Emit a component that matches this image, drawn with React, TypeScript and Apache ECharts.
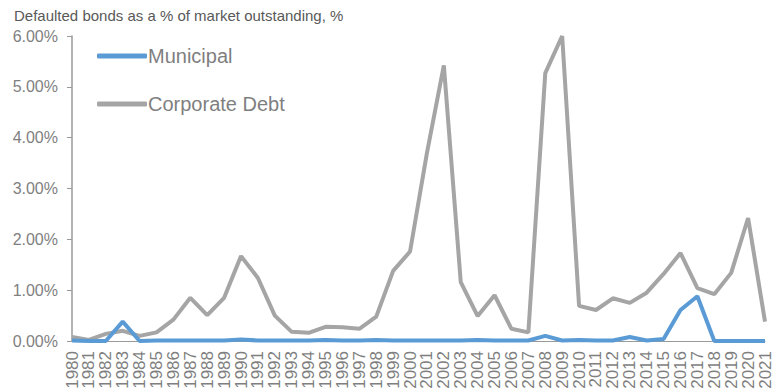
import React, { useEffect, useRef } from "react";
import * as echarts from "echarts";

const years = [
  "1980", "1981", "1982", "1983", "1984", "1985", "1986", "1987", "1988", "1989",
  "1990", "1991", "1992", "1993", "1994", "1995", "1996", "1997", "1998", "1999",
  "2000", "2001", "2002", "2003", "2004", "2005", "2006", "2007", "2008", "2009",
  "2010", "2011", "2012", "2013", "2014", "2015", "2016", "2017", "2018", "2019",
  "2020", "2021",
];

const municipal = [
  0.01, 0.0, 0.0, 0.38, 0.0, 0.01, 0.01, 0.01, 0.01, 0.01,
  0.03, 0.01, 0.01, 0.01, 0.01, 0.02, 0.01, 0.01, 0.02, 0.01,
  0.01, 0.01, 0.01, 0.01, 0.02, 0.01, 0.01, 0.01, 0.1, 0.01,
  0.02, 0.01, 0.01, 0.08, 0.01, 0.04, 0.61, 0.88, 0.0, 0.0,
  0.0, 0.0,
];

const corporate = [
  0.08, 0.02, 0.14, 0.2, 0.1, 0.17, 0.42, 0.85, 0.51, 0.85,
  1.67, 1.24, 0.5, 0.18, 0.16, 0.28, 0.27, 0.24, 0.48, 1.38,
  1.76, 3.7, 5.42, 1.16, 0.49, 0.9, 0.24, 0.17, 5.27, 6.0,
  0.69, 0.61, 0.84, 0.75, 0.95, 1.32, 1.73, 1.04, 0.92, 1.34,
  2.42, 0.38,
];

const titleText = "Defaulted bonds as a % of market outstanding, %";
const FONT = "'Liberation Sans Narrow', 'Arial Narrow', 'Liberation Sans', sans-serif";
const GRAY = "#7f7f7f";

export default function App() {
  const ref = useRef<HTMLDivElement>(null);
  useEffect(() => {
    if (!ref.current) return;
    const chart = echarts.init(ref.current, undefined, { renderer: "svg" });
    chart.setOption({
      animation: false,
      textStyle: { fontFamily: FONT },
      title: {
        text: titleText,
        left: 9,
        top: 3,
        textStyle: { fontFamily: FONT, fontSize: 15, fontWeight: "normal", color: "#595959" },
      },
      legend: {
        orient: "vertical",
        left: 92,
        top: 41,
        itemWidth: 50,
        itemHeight: 5,
        itemGap: 28,
        icon: "roundRect",
        textStyle: { fontFamily: FONT, fontSize: 20, color: GRAY, padding: [0, 0, 0, -4] },
        data: ["Municipal", "Corporate Debt"],
      },
      grid: {
        left: 72,
        right: 8,
        top: 36,
        bottom: 48,
        containLabel: false,
        outerBoundsMode: "none",
      },
      xAxis: {
        type: "category",
        data: years,
        boundaryGap: false,
        axisLine: { show: true, lineStyle: { color: "#9a9a9a", width: 1 } },
        axisTick: { show: false },
        axisLabel: {
          interval: 0,
          rotate: 90,
          fontFamily: FONT,
          fontSize: 17,
          color: GRAY,
          margin: 10,
        },
      },
      yAxis: {
        type: "value",
        min: 0,
        max: 6,
        interval: 1,
        splitLine: { show: false },
        axisLine: { show: true, lineStyle: { color: "#9a9a9a", width: 1.5 } },
        axisTick: { show: true, length: 5, lineStyle: { color: "#9a9a9a" } },
        axisLabel: {
          fontFamily: FONT,
          fontSize: 16,
          color: GRAY,
          margin: 14,
          formatter: (v: number) => v.toFixed(2) + "%",
        },
      },
      series: [
        {
          name: "Municipal",
          type: "line",
          data: municipal,
          showSymbol: false,
          symbol: "none",
          lineStyle: { color: "#5b9bd5", width: 4 },
          itemStyle: { color: "#5b9bd5" },
          z: 3,
        },
        {
          name: "Corporate Debt",
          type: "line",
          data: corporate,
          showSymbol: false,
          symbol: "none",
          lineStyle: { color: "#a5a5a5", width: 4 },
          itemStyle: { color: "#a5a5a5" },
          z: 2,
        },
      ],
    });
    return () => chart.dispose();
  }, []);
  return (
    <div
      ref={ref}
      style={{ position: "fixed", left: 0, top: 0, width: 773, height: 389, background: "#fff" }}
    />
  );
}
